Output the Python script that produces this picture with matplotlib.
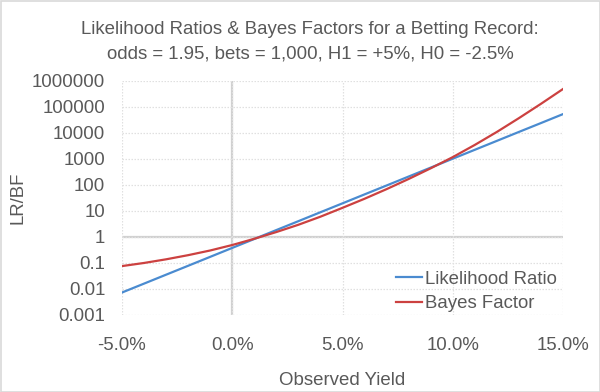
import matplotlib
matplotlib.use("Agg")
import matplotlib.pyplot as plt
from matplotlib.ticker import FixedLocator, FixedFormatter
from matplotlib.patches import Rectangle

# ---- data ----
yield_pct = [-5, -4, -3, -2, -1, 0, 1, 2, 3, 4, 5, 6, 7, 8, 9, 10, 11, 12, 13, 14, 15]
likelihood_ratio = [0.00713, 0.0157, 0.0346, 0.0762, 0.168, 0.371, 0.817, 1.80, 3.96, 8.73,
                    19.2, 42.4, 93.3, 206, 454, 1000, 2200, 4850, 10700, 23500, 51900]
bayes_factor = [0.0741, 0.0977, 0.135, 0.195, 0.295, 0.479, 0.832, 1.51, 2.88, 5.89,
                12.9, 28.8, 67.6, 166, 427, 1150, 3390, 10700, 36300, 129000, 479000]
x_ticks = [-5, 0, 5, 10, 15]
x_tick_labels = ["-5.0%", "0.0%", "5.0%", "10.0%", "15.0%"]
y_ticks = [0.001, 0.01, 0.1, 1, 10, 100, 1000, 10000, 100000, 1000000]
y_tick_labels = ["0.001", "0.01", "0.1", "1", "10", "100", "1000", "10000", "100000", "1000000"]
title_lines = ["Likelihood Ratios & Bayes Factors for a Betting Record:",
               "odds = 1.95, bets = 1,000, H1 = +5%, H0 = -2.5%"]

plt.rcParams['font.family'] = ['Liberation Sans', 'DejaVu Sans']
text_color = "#595959"
fs = 13.4

fig = plt.figure(figsize=(6.0, 3.92), dpi=100)
ax = fig.add_axes([122/600, 1-314.7/392, (563-122)/600, (314.7-80.7)/392])

ax.plot(yield_pct, likelihood_ratio, color="#4A8BD0", lw=1.6, label="Likelihood Ratio", zorder=3)
ax.plot(yield_pct, bayes_factor, color="#CC4140", lw=1.6, label="Bayes Factor", zorder=3)

ax.set_yscale("log")
ax.set_xlim(-5, 15)
ax.set_ylim(0.001, 1000000)
ax.yaxis.set_major_locator(FixedLocator(y_ticks))
ax.yaxis.set_major_formatter(FixedFormatter(y_tick_labels))
ax.yaxis.set_minor_locator(FixedLocator([]))
ax.xaxis.set_major_locator(FixedLocator(x_ticks))
ax.xaxis.set_major_formatter(FixedFormatter(x_tick_labels))

ax.grid(True, which="major", color="#E0E0E0", lw=0.9, ls=(0, (1.2, 1.2)), zorder=0)
ax.axvline(0, color="#D0D0D0", lw=1.6, zorder=1)
ax.axhline(1, color="#D0D0D0", lw=1.6, zorder=1)
for s in ax.spines.values():
    s.set_visible(False)

ax.tick_params(axis="both", length=0, labelsize=fs, labelcolor=text_color)
ax.tick_params(axis="y", pad=12)
ax.tick_params(axis="x", pad=16)

ax.set_xlabel("Observed Yield", fontsize=fs, color=text_color, labelpad=13)
fig.text(18.5/600, 1-197.5/392, "LR/BF", rotation=90, fontsize=fs, color=text_color,
         ha="center", va="center")

fig.text(310/600, 1-29/392, title_lines[0], fontsize=fs, color=text_color, ha="center", va="center")
fig.text(310/600, 1-54/392, title_lines[1], fontsize=fs, color=text_color, ha="center", va="center")

leg = ax.legend(loc="lower right", frameon=False, fontsize=fs, handlelength=1.4,
                handletextpad=0.2, labelspacing=0.4, borderaxespad=0.1,
                bbox_to_anchor=(1.008, -0.03))
for t in leg.get_texts():
    t.set_color(text_color)

fig.patches.append(Rectangle((0.5/600, 0.5/392), 1-1/600, 1-1/392, transform=fig.transFigure,
                             fill=False, edgecolor="#D9D9D9", lw=1.2))

fig.savefig("out.png", dpi=100, facecolor="white")
